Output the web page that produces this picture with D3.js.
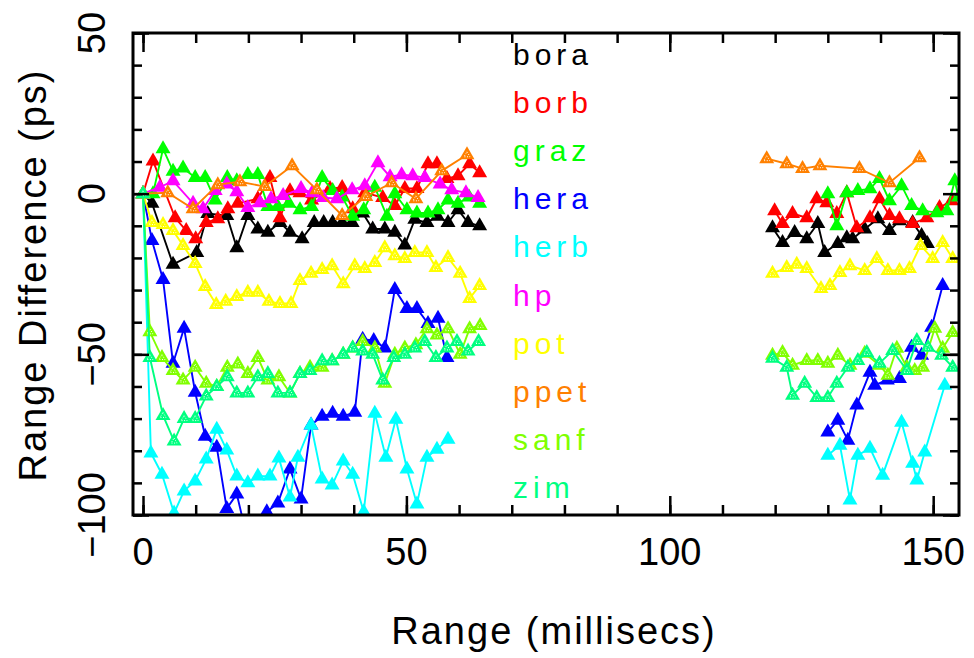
<!DOCTYPE html>
<html>
<head>
<meta charset="utf-8">
<script src="https://cdn.jsdelivr.net/npm/d3@7"></script>
<style>
  body { margin: 0; background: #fff; }
  svg { display: block; }
</style>
</head>
<body>
<svg width="974" height="658"></svg>
<script>
// station names + colours, in legend order
var names = ["bora", "borb", "graz", "hera", "herb", "hp", "pot", "ppet", "sanf", "zim"];
var colors = ["#000000", "#ff0000", "#00ff00", "#0000ff", "#00ffff", "#ff00ff", "#ffff00", "#ff8000", "#80ff00", "#00ff80"];
// these ones have the speckled (hollow-ish) triangles
var dotted = ["pot", "ppet", "sanf", "zim"];

var xTicksMajor = [0, 50, 100, 150];
var yTicksMajor = [50, 0, -50, -100];

// [range ms, range difference ps]; null = gap in the track
var bora = [[0,0],[1.7,-3],[5.7,-22],[10.2,-18.3],[12.3,-6.2],[15.9,-6.8],[17.8,-16.8],[19.9,-6.8],[21.8,-11],[23.7,-12],[26,-9],[27.9,-12],[30.2,-14],[32.5,-9],[34.3,-9],[36,-9],[37.8,-9],[39.7,-9],[41.7,-6],[43.6,-11],[45.9,-11],[47.8,-12],[49.7,-16],[51.6,-8],[53.9,-9],[55.9,-7],[57.9,-9],[59.8,-5],[61.7,-9],[63.9,-10],
  null,[119.5,-10.6],[121.4,-15.2],[123.7,-12.1],[126,-14],[128.1,-9.3],[129.4,-18.3],[131.9,-15.5],[133.6,-13.7],[134.7,-14],[137,-11],[139.5,-7.8],[141.7,-11.5],[143.6,-8.4],[146.1,-9],[147.8,-13],[148.9,-15.5]];
var borb = [[0,0],[1.9,10.2],[6.1,-7.5],[8.2,-11.5],[10,-14],[12,-9],[14.2,-7.8],[16.1,-4.7],[18,-3],[21.8,-1.6],[24.1,5],[26,-7.5],[27.9,0.9],[29.8,0.3],[32,-2],[35.5,1.6],[37.8,1.9],[39.8,-4.7],[42.1,0.3],[45.5,-1.2],[47.8,-3.7],[49.7,1.6],[52,1.6],[54.1,9.3],[55.8,9.3],[57.7,4.7],[59.8,5.6],[62,9.3],[63.9,6.5],
  null,[119.9,-5.3],[121.4,-9.3],[123.3,-6.2],[126,-7.5],[127.9,-1.6],[129.8,-2.8],[131.7,-6.2],[133.6,0.3],[135.5,-10.6],[138,-7.5],[139.8,-1.6],[141.7,-6.8],[143.6,-7.8],[146.1,-9.3],[148.8,-7.5],[151.2,-4.3],[153.5,-2.2]];
var graz = [[0,0],[1.9,0],[3.8,14],[5.7,7],[7.6,8],[9.9,5],[11.8,5],[13.7,-2],[16,5],[17.8,4],[19.9,6],[21.8,6],[23.7,-4],[25.6,-4],[27.7,-3],[29.8,-5],[32,-4],[34,5],[36,1],[37.8,-1],[39.8,-7],[41.9,-5],[44,2],[46.3,-7],[47.8,0],[50.1,-5],[52,-6],[54.1,-6],[56,-5],[57.9,-2],[59.8,-3],[61.9,-1],[63.9,-3],
  null,[130,0],[131.7,-10],[133.6,0.3],[135.7,1],[138,1.5],[139.8,4.7],[141.7,-2.2],[144,2.5],[145.9,-3.7],[148,-5.3],[150.7,-5.9],[152.6,-5.3],[154.1,4],[154.8,-1]];
var hera = [[0,0],[1.7,-14.6],[3.8,-26.7],[5.7,-52.8],[7.8,-41.9],[9.9,-61.8],[11.8,-75.5],[14,-78.9],[15.9,-98],[17.8,-93.5],[19.9,-108],[23.5,-99],[25.6,-96.3],[27.9,-85.7],[30,-95],[31.9,-72],[34,-69.3],[36,-68.3],[38,-69.3],[40.2,-68],[41.7,-45.3],[43.8,-45.7],[45.9,-48],[47.8,-29.8],[50.1,-35.7],[52,-35.7],[54.1,-40.4],[56,-38.8],[57.7,-51],
  null,[130,-74.2],[131.9,-70.5],[133.8,-76.7],[135.5,-65.8],[138,-55.6],[138.9,-59.6],[141.3,-58],[143.6,-57.5],[145.9,-47.8],[147.8,-50.3],[149.7,-41.6],[151.8,-28.6]];
var herb = [[0,0],[1.5,-80.7],[3.6,-87.3],[5.9,-99.4],[7.8,-92.5],[9.9,-89.4],[12,-82.6],[14,-73.3],[15.9,-79.8],[17.8,-87.9],[19.9,-90],[21.8,-87.9],[24.1,-87.9],[25.8,-82.3],[27.9,-94.4],[29.4,-82],[31.9,-72],[34,-88.8],[35.9,-90.7],[38,-83.2],[39.8,-87.3],[41.9,-99],[44,-68.3],[46.1,-82],[48,-70.2],[50.1,-85.7],[52,-96.6],[53.9,-82],[55.8,-79.5],[57.9,-76.4],
  null,[130,-81.4],[132.3,-78.3],[134.2,-95.3],[135.7,-81.4],[138,-79.2],[140.4,-87.6],[144,-71.1],[146.1,-83.9],[146.9,-89.1],[148.4,-80.4],[152.2,-59.6]];
var hp = [[0,0],[3.2,2],[5.7,4],[9.5,-3],[11.4,-4.7],[13.7,1],[15.9,3],[17.8,0.6],[19.9,-4.3],[22.2,-2.8],[24.3,-1.6],[26.6,-0.6],[30,1.6],[32.1,0.3],[34.2,-1.2],[36.8,-1.6],[39.7,1.2],[42.1,2.5],[44.6,9.6],[46.9,5.3],[49.1,5.9],[51.2,5.6],[53.5,5],[56.4,3],[58.6,1.2],[61.3,0.3],[63.6,-1.2]];
var pot = [[0,0],[1.7,-9],[3.8,-9.6],[5.7,-11.5],[7.6,-16.1],[9.9,-21.7],[11.8,-28.9],[13.9,-34.5],[15.7,-33.5],[17.8,-32],[19.9,-30.7],[21.8,-30.7],[23.9,-33.5],[26,-34.2],[28.1,-34.2],[29.8,-27],[31.9,-24.8],[34,-23.6],[35.9,-22.4],[38,-28],[40.2,-22.4],[42.1,-23.3],[44,-21.4],[45.9,-16.8],[47.8,-19.3],[49.7,-20.2],[51.6,-18.3],[53.9,-18.3],[55.6,-23],[57.9,-19.9],[60.2,-24.8],[62,-32.6],[63.9,-28.6],
  null,[119.5,-24.8],[122.2,-23],[124.1,-22],[126,-23.3],[128.7,-29.5],[130.4,-28.6],[132.3,-24.5],[134.2,-22.4],[137,-23.9],[139.3,-20.2],[141.4,-23.9],[143.6,-23.9],[145.5,-23.3],[147.6,-16.1],[149.9,-20.2],[151.8,-15.2],[153.7,-20.2]];
var ppet = [[0,0],[4.7,0.3],[9.5,-4.7],[14.2,2.8],[18.4,3.7],[23.1,2.2],[28.3,8.7],[33,1.2],[37.8,-6.8],[42.3,-0.9],[47.2,3.4],[51.8,-1.6],[56.7,7.1],[61.5,12.1],
  null,[118.4,10.9],[122.2,9.3],[125.2,7.8],[128.5,8.7],[136,7.8],[141.7,3.4],[147.4,11.2]];
var sanf = [[0,0],[1.3,-43],[3.6,-51],[5.7,-55],[7.6,-58],[9.9,-54],[12,-59],[14,-60],[16,-54],[18,-53],[19.9,-56],[21.8,-51],[23.7,-58],[25.8,-57],[27.9,-62],[29.8,-56],[31.7,-54],[34,-54],[35.9,-52],[38,-50],[39.8,-48],[41.7,-46],[44,-48],[45.9,-59],[47.8,-50],[49.7,-48],[51.8,-47],[53.9,-42],[55.8,-44],[57.9,-42],[60.2,-50],[62,-42],[64,-41],
  null,[119.5,-50.3],[121.4,-49.4],[123.3,-53.4],[126,-51.9],[128.1,-51.9],[130,-52.8],[131.9,-50.3],[134.2,-53.4],[137,-49.7],[139.8,-53.4],[141.4,-56.5],[143.1,-48.1],[145,-54],[146.5,-55],[148,-54],[150.3,-41.9],[151.8,-48.1],[153.7,-43.2]];
var zim = [[0,0],[1.3,-51],[3.8,-69],[5.9,-77],[7.8,-70],[9.9,-70],[12,-63],[14,-60],[16,-57],[17.8,-62],[19.9,-62],[21.8,-57],[23.7,-56],[25.6,-62],[27.9,-62],[29.8,-56],[31.7,-55],[34,-52],[35.9,-52],[38,-50],[39.8,-48],[41.7,-49],[43.6,-50],[45.5,-58],[47.6,-51],[49.7,-50],[51.6,-48],[53.5,-46],[55.6,-51],[57.7,-48],[59.6,-46],[61.7,-49],[63.7,-46],
  null,[119.5,-51.2],[122.2,-54],[123.3,-62.7],[125.6,-59],[127.9,-63.4],[130,-63.4],[131.7,-59],[133.8,-54],[135.7,-51.9],[137.4,-49.4],[139.8,-52.8],[142.3,-48.8],[145,-55],[146.9,-45.7],[149,-47.8],[151.6,-50.3],[153.7,-54]];

var tracks = [bora, borb, graz, hera, herb, hp, pot, ppet, sanf, zim];

var svg = d3.select("svg");
// frame edges (note: "top" is reserved on window, so use plotTop etc.)
var plotLeft = 133, plotRight = 959, plotTop = 33, plotBottom = 515;

var x = d3.scaleLinear().domain([-1.9, 154.9]).range([plotLeft, plotRight]);
var y = d3.scaleLinear().domain([-100, 50]).range([plotBottom, plotTop]);

var labelFont = "'Liberation Sans Narrow', 'Liberation Sans', Arial, sans-serif";
var titleFont = "'Liberation Sans', Arial, sans-serif";

// clip to the frame
svg.append("clipPath").attr("id", "plotclip")
  .append("rect").attr("x", plotLeft).attr("y", plotTop)
  .attr("width", plotRight - plotLeft).attr("height", plotBottom - plotTop);

var plot = svg.append("g").attr("clip-path", "url(#plotclip)");

var line = d3.line()
  .defined(function(d) { return d != null; })
  .x(function(d) { return x(d[0]); })
  .y(function(d) { return y(d[1]); });

var tri = "M0,-8.5L7.5,4.5L-7.5,4.5Z";
var innerTri = "M0,-3L3,2L-3,2Z";

tracks.forEach(function(pts, i) {
  var g = plot.append("g");
  g.append("path")
    .datum(pts)
    .attr("d", line)
    .attr("fill", "none")
    .attr("stroke", colors[i])
    .attr("stroke-width", 1.9);

  var m = g.selectAll("g.pt")
    .data(pts.filter(function(d) { return d != null; }))
    .enter().append("g")
    .attr("class", "pt")
    .attr("transform", function(d) { return "translate(" + x(d[0]) + "," + y(d[1]) + ")"; });

  m.append("path").attr("d", tri).attr("fill", colors[i]);

  if (dotted.indexOf(names[i]) >= 0) {
    m.append("path").attr("d", innerTri)
      .attr("fill", "none")
      .attr("stroke", "#fff")
      .attr("stroke-width", 1)
      .attr("stroke-dasharray", "1,1.6");
  }
});

// ticks on all four sides, pointing inward
function tickStyle(g) {
  g.select(".domain").remove();
  g.selectAll(".tick line").attr("stroke", "#000").attr("stroke-width", 2.5);
  g.selectAll(".tick text").remove();
}
var xMinor = d3.range(0, 151, 10), yMinor = d3.range(-100, 51, 10);

svg.append("g").attr("transform", "translate(0," + plotBottom + ")")
  .call(d3.axisBottom(x).tickValues(xMinor).tickSize(-10)).call(tickStyle);
svg.append("g").attr("transform", "translate(0," + plotBottom + ")")
  .call(d3.axisBottom(x).tickValues(xTicksMajor).tickSize(-19)).call(tickStyle);
svg.append("g").attr("transform", "translate(0," + plotTop + ")")
  .call(d3.axisTop(x).tickValues(xMinor).tickSize(-10)).call(tickStyle);
svg.append("g").attr("transform", "translate(0," + plotTop + ")")
  .call(d3.axisTop(x).tickValues(xTicksMajor).tickSize(-19)).call(tickStyle);
svg.append("g").attr("transform", "translate(" + plotLeft + ",0)")
  .call(d3.axisLeft(y).tickValues(yMinor).tickSize(-9)).call(tickStyle);
svg.append("g").attr("transform", "translate(" + plotLeft + ",0)")
  .call(d3.axisLeft(y).tickValues(yTicksMajor).tickSize(-16)).call(tickStyle);
svg.append("g").attr("transform", "translate(" + plotRight + ",0)")
  .call(d3.axisRight(y).tickValues(yMinor).tickSize(-9)).call(tickStyle);
svg.append("g").attr("transform", "translate(" + plotRight + ",0)")
  .call(d3.axisRight(y).tickValues(yTicksMajor).tickSize(-16)).call(tickStyle);

// frame
svg.append("rect")
  .attr("x", plotLeft).attr("y", plotTop)
  .attr("width", plotRight - plotLeft).attr("height", plotBottom - plotTop)
  .attr("fill", "none").attr("stroke", "#000").attr("stroke-width", 3);

// tick labels
var fmt = d3.format("d");
svg.append("g").selectAll("text")
  .data(xTicksMajor).enter().append("text")
  .attr("x", function(d) { return x(d); })
  .attr("y", 565)
  .attr("text-anchor", "middle")
  .attr("font-family", labelFont)
  .attr("font-size", 38)
  .text(function(d) { return fmt(d); });

svg.append("g").selectAll("text")
  .data(yTicksMajor).enter().append("text")
  .attr("transform", function(d) { return "translate(105," + y(d) + ") rotate(-90)"; })
  .attr("text-anchor", "middle")
  .attr("font-family", labelFont)
  .attr("font-size", 38)
  .text(function(d) { return fmt(d); });

// axis titles
svg.append("text")
  .attr("x", 554).attr("y", 644)
  .attr("text-anchor", "middle")
  .attr("font-family", titleFont)
  .attr("font-size", 38)
  .attr("letter-spacing", 2)
  .text("Range (millisecs)");

svg.append("text")
  .attr("transform", "translate(46,275) rotate(-90)")
  .attr("text-anchor", "middle")
  .attr("font-family", titleFont)
  .attr("font-size", 38)
  .attr("letter-spacing", 2)
  .text("Range Difference (ps)");

// legend (station names)
svg.append("g").selectAll("text")
  .data(names).enter().append("text")
  .attr("x", 513)
  .attr("y", function(d, i) { return 65 + i * 48.1; })
  .attr("fill", function(d, i) { return colors[i]; })
  .attr("font-family", titleFont)
  .attr("font-size", 30)
  .attr("letter-spacing", 5)
  .text(function(d) { return d; });
</script>
</body>
</html>
